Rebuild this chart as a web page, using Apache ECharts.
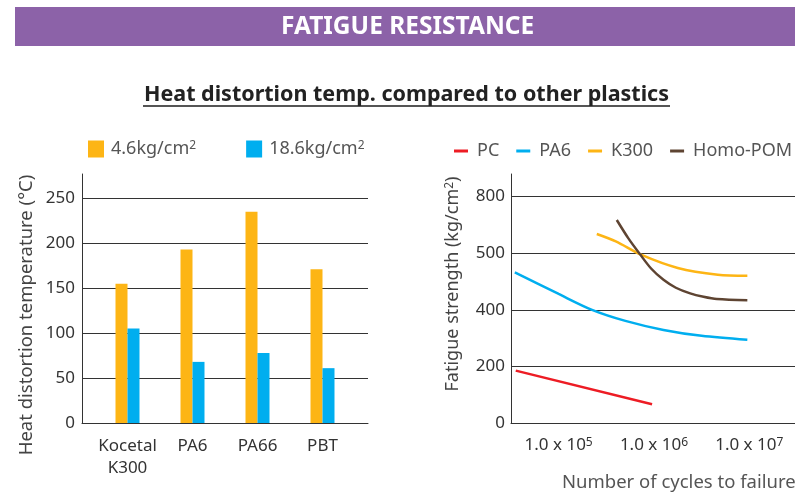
<!DOCTYPE html>
<html>
<head>
<meta charset="utf-8">
<script src="https://cdn.jsdelivr.net/npm/echarts@6/dist/echarts.min.js"></script>
<style>
html,body{margin:0;padding:0;background:#fff;}
#main{width:795px;height:495px;}
</style>
</head>
<body>
<div id="main"></div>
<script>
var FONT = '"Noto Sans", sans-serif';

// left chart: heat distortion temperature
var categories = ['Kocetal\nK300', 'PA6', 'PA66', 'PBT'];
var temp46 = [155, 193, 235, 171];
var temp186 = [105, 68, 78, 61];

// right chart: fatigue strength, x = log10(cycles)
var fatigueTicks = [0, 200, 400, 500, 800];
var cycleExps = [5, 6, 7];
var pcN = [4.55, 5.98];
var pcS = [185, 66];
var pa6N = [4.54, 5.0, 5.35, 5.7, 6.1, 6.5, 6.98];
var pa6S = [466, 428, 400, 361, 329, 308, 294];
var k300N = [5.40, 5.6, 5.87, 6.25, 6.67, 6.98];
var k300S = [602, 563, 497, 474, 462, 460];
var pomN = [5.61, 5.73, 5.85, 5.97, 6.10, 6.23, 6.38, 6.52, 6.66, 6.98];
var pomS = [676, 580, 499, 473, 453, 439, 429, 423, 419, 417];

// fatigue axis is spaced evenly per tick label, not linearly
function toIdx(v){
	for(var i=0;i<fatigueTicks.length-1;i++){
		if(v<=fatigueTicks[i+1]) return i+(v-fatigueTicks[i])/(fatigueTicks[i+1]-fatigueTicks[i]);
	}
	return fatigueTicks.length-1;
}
function pairs(xs, ys){
	return xs.map(function(x,i){ return [x, toIdx(ys[i])]; });
}
function isInt(v){ return Math.abs(v-Math.round(v))<1e-6; }

var supStyle = {fontSize: 12, verticalAlign: 'top', lineHeight: 12, fontFamily: FONT, color: '#555'};

var myChart = echarts.init(document.getElementById('main'));
var option = {
	animation: false,
	textStyle: {fontFamily: FONT},
	title: [
		{text: 'FATIGUE RESISTANCE', left: 276, top: 10,
			textStyle: {color: '#fff', fontSize: 24.5, fontWeight: 'bold', fontFamily: FONT}},
		{text: 'Heat distortion temp. compared to other plastics', left: 139, top: 79,
			textStyle: {color: '#222', fontSize: 21.5, fontWeight: 'bold', fontFamily: FONT}}
	],
	graphic: [
		{type: 'rect', z: -1, shape: {x: 15, y: 7, width: 780, height: 39}, style: {fill: '#8c62a8'}},
		{type: 'line', shape: {x1: 143, y1: 106, x2: 670, y2: 106}, style: {stroke: '#555', lineWidth: 2}},
		{type: 'text', x: 27, y: 315, rotation: Math.PI/2,
			style: {text: 'Heat distortion temperature (°C)', fill: '#444', font: '18.5px ' + FONT, textAlign: 'center', textVerticalAlign: 'middle'}},
		{type: 'text', x: 453, y: 284, rotation: Math.PI/2,
			style: {text: 'Fatigue strength (kg/cm{s|2})', fill: '#444', font: '18px ' + FONT, textAlign: 'center', textVerticalAlign: 'middle',
				rich: {s: {fontSize: 12, verticalAlign: 'top', fill: '#444', fontFamily: FONT}}}},
		{type: 'text', x: 562, y: 483,
			style: {text: 'Number of cycles to failure', fill: '#555', font: '18.5px ' + FONT, textVerticalAlign: 'middle'}}
	],
	legend: [
		{left: 88, top: 140, padding: 0, itemWidth: 16, itemHeight: 17, itemGap: 50, icon: 'rect',
			data: ['4.6kg/cm2', '18.6kg/cm2'],
			formatter: function(n){ return n.replace('cm2', 'cm{sup|2}'); },
			textStyle: {fontSize: 18, color: '#555', padding: [0,0,0,2], rich: {sup: supStyle}}},
		{left: 454, top: 142, width: 400, padding: 0, itemWidth: 14, itemHeight: 3, itemGap: 17, icon: 'rect',
			data: ['PC', 'PA6', 'K300', 'Homo-POM'],
			textStyle: {fontSize: 18, color: '#555', padding: [0,0,0,4]}}
	],
	grid: [
		{left: 82, width: 286, top: 174, height: 249},
		{left: 511, right: 0, top: 174, height: 249}
	],
	xAxis: [
		{type: 'value', gridIndex: 0, min: -0.7, max: 3.7, interval: 0.1,
			axisLine: {onZero: false, lineStyle: {color: '#333'}}, axisTick: {show: false}, splitLine: {show: false},
			axisLabel: {color: '#333', fontSize: 17, lineHeight: 22, margin: 12, showMaxLabel: false,
				formatter: function(v){ return (isInt(v) && v>=0 && v<categories.length) ? categories[Math.round(v)] : ''; }}},
		{type: 'value', gridIndex: 1, min: 4.5, max: 7.48, interval: 0.5,
			axisLine: {onZero: false, lineStyle: {color: '#333'}}, axisTick: {show: false}, splitLine: {show: false},
			axisLabel: {color: '#333', fontSize: 17, margin: 14, showMaxLabel: false,
				formatter: function(v){ return (isInt(v) && cycleExps.indexOf(Math.round(v))>=0) ? '1.0 x 10{sup|' + Math.round(v) + '}' : ''; },
				rich: {sup: {fontSize: 12, verticalAlign: 'top', color: '#333', fontFamily: FONT}}}}
	],
	yAxis: [
		{type: 'value', gridIndex: 0, min: 0, max: 277, interval: 50,
			axisLine: {show: true, onZero: false, lineStyle: {color: '#333'}}, axisTick: {show: false},
			splitLine: {show: true, showMaxLine: false, lineStyle: {color: '#333'}},
			axisLabel: {color: '#333', fontSize: 17, margin: 7, showMaxLabel: false}},
		{type: 'value', gridIndex: 1, min: 0, max: 4.4, interval: 1,
			axisLine: {show: true, onZero: false, lineStyle: {color: '#333'}}, axisTick: {show: false},
			splitLine: {show: true, showMaxLine: false, lineStyle: {color: '#333'}},
			axisLabel: {color: '#333', fontSize: 17, margin: 6, showMaxLabel: false,
				formatter: function(v){ return isInt(v) ? String(fatigueTicks[Math.round(v)]) : ''; }}}
	],
	series: [
		{name: '4.6kg/cm2', type: 'bar', xAxisIndex: 0, yAxisIndex: 0, barWidth: 12, barGap: '0%',
			itemStyle: {color: '#fdb515'}, data: temp46.map(function(v,i){ return [i, v]; })},
		{name: '18.6kg/cm2', type: 'bar', xAxisIndex: 0, yAxisIndex: 0, barWidth: 12, barGap: '0%',
			itemStyle: {color: '#00aeef'}, data: temp186.map(function(v,i){ return [i, v]; })},
		{name: 'PC', type: 'line', xAxisIndex: 1, yAxisIndex: 1, showSymbol: false,
			lineStyle: {color: '#ed1c24', width: 2.5}, itemStyle: {color: '#ed1c24'}, data: pairs(pcN, pcS)},
		{name: 'PA6', type: 'line', xAxisIndex: 1, yAxisIndex: 1, showSymbol: false, smooth: 0.3,
			lineStyle: {color: '#00aeef', width: 2.5}, itemStyle: {color: '#00aeef'}, data: pairs(pa6N, pa6S)},
		{name: 'K300', type: 'line', xAxisIndex: 1, yAxisIndex: 1, showSymbol: false, smooth: 0.3,
			lineStyle: {color: '#fdb515', width: 2.5}, itemStyle: {color: '#fdb515'}, data: pairs(k300N, k300S)},
		{name: 'Homo-POM', type: 'line', xAxisIndex: 1, yAxisIndex: 1, showSymbol: false, smooth: 0.3,
			lineStyle: {color: '#5e4432', width: 2.5}, itemStyle: {color: '#5e4432'}, data: pairs(pomN, pomS)}
	]
};
myChart.setOption(option);
</script>
</body>
</html>
